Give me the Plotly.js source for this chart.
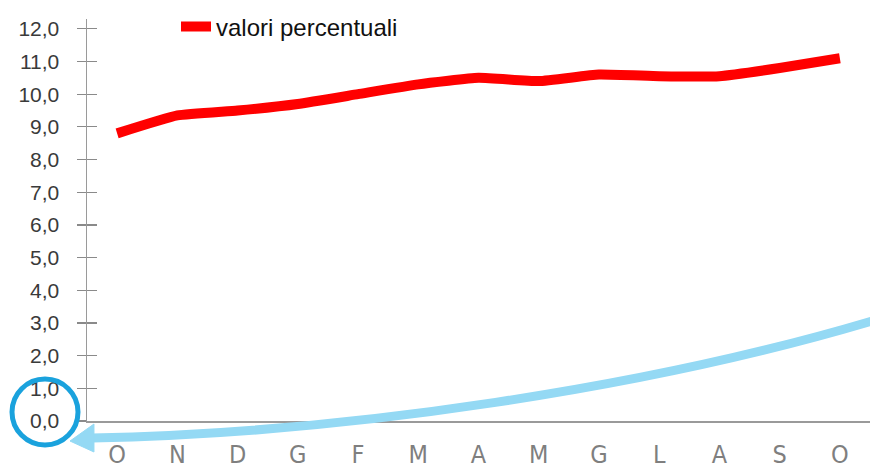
<!DOCTYPE html>
<html>
<head>
<meta charset="utf-8">
<script src="https://cdn.plot.ly/plotly-3.0.1.min.js"></script>
<style>html,body{margin:0;padding:0;background:#fff;}#chart{width:870px;height:467px;}</style>
</head>
<body>
<div id="chart"></div>
<script>
// Data
const months = ["O", "N", "D", "G", "F", "M", "A", "M ", "G ", "L", "A ", "S", "O "];
const monthLabels = ["O", "N", "D", "G", "F", "M", "A", "M", "G", "L", "A", "S", "O"];
const valoriPercentuali = [8.8, 9.35, 9.5, 9.7, 10.0, 10.3, 10.5, 10.4, 10.6, 10.55, 10.55, 10.8, 11.1];
const yTicks = [0, 1, 2, 3, 4, 5, 6, 7, 8, 9, 10, 11, 12];
const seriesName = "valori percentuali";

// layout geometry (pixels) for decorations
const W = 870, H = 467, L = 87, R = 0, T = 19, B = 46;
const px = x => (x - L) / (W - L - R);
const py = y => (H - B - y) / (H - T - B);
const f = v => v.toFixed(4);

const arrowColor = "#94d9f4";
const circleColor = "#1aa2dd";

const curve = "M " + f(px(872)) + "," + f(py(321)) +
  " C " + f(px(650)) + "," + f(py(387)) + " " + f(px(350)) + "," + f(py(433)) + " " + f(px(92)) + "," + f(py(438));
const head = "M " + f(px(70)) + "," + f(py(441)) + " L " + f(px(94)) + "," + f(py(424)) +
  " L " + f(px(94)) + "," + f(py(452)) + " Z";

const trace = {
  x: months,
  y: valoriPercentuali,
  type: "scatter",
  mode: "lines",
  name: seriesName,
  line: {color: "#ff0000", width: 10, shape: "spline", smoothing: 0.4},
  hoverinfo: "y"
};

const layout = {
  width: W, height: H,
  margin: {l: L, r: R, t: T, b: B, pad: 0},
  paper_bgcolor: "#ffffff",
  plot_bgcolor: "#ffffff",
  font: {family: "Liberation Sans, Arial, sans-serif", color: "#333333"},
  showlegend: true,
  legend: {
    x: px(176), y: py(27), xanchor: "left", yanchor: "middle",
    bgcolor: "rgba(0,0,0,0)",
    font: {family: "Liberation Sans, Arial, sans-serif", size: 24, color: "#111111"}
  },
  xaxis: {
    type: "category",
    range: [-0.5, 12.5],
    tickvals: months,
    ticktext: monthLabels,
    showgrid: false, zeroline: false,
    showline: true, linecolor: "#9a9a9a", linewidth: 1.5,
    ticks: "",
    ticklabelstandoff: 10,
    tickfont: {family: "Liberation Sans Narrow, Arial Narrow, DejaVu Sans Condensed, Liberation Sans, sans-serif", size: 25, color: "#7f7f7f"},
    fixedrange: true
  },
  yaxis: {
    range: [0, 12.3],
    tickvals: yTicks,
    tickformat: ".1f",
    showgrid: false, zeroline: false,
    showline: true, linecolor: "#9a9a9a", linewidth: 1.5,
    ticks: "outside", ticklen: 9, tickwidth: 1.2, tickcolor: "#8a8a8a",
    ticklabelstandoff: 13,
    tickfont: {family: "Liberation Sans, Arial, sans-serif", size: 21, color: "#3a3a3a"},
    fixedrange: true
  },
  yaxis2: {
    overlaying: "y",
    side: "left",
    range: [0, 12.3],
    tickvals: yTicks,
    showgrid: false, zeroline: false, showline: false,
    ticks: "inside", ticklen: 10, tickwidth: 1.2, tickcolor: "#8a8a8a",
    showticklabels: false,
    fixedrange: true
  },
  separators: ",.",
  shapes: [
    {type: "path", xref: "paper", yref: "paper", path: curve,
     line: {color: arrowColor, width: 9}, layer: "above"},
    {type: "path", xref: "paper", yref: "paper", path: head,
     fillcolor: arrowColor, line: {color: arrowColor, width: 1}, layer: "above"},
    {type: "circle", xref: "paper", yref: "paper",
     x0: px(12), x1: px(78), y0: py(445), y1: py(379),
     line: {color: circleColor, width: 5}, layer: "above"}
  ]
};

const ghost = {x: [months[0]], y: [0], yaxis: "y2", type: "scatter", mode: "markers",
  marker: {opacity: 0}, showlegend: false, hoverinfo: "skip"};

Plotly.newPlot("chart", [trace, ghost], layout, {displayModeBar: false, staticPlot: true});
</script>
</body>
</html>
